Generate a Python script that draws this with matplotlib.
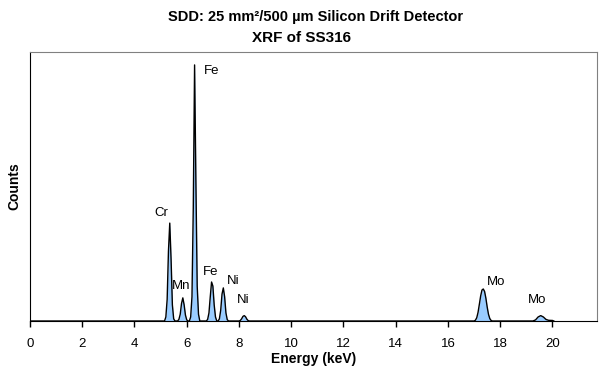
import matplotlib
matplotlib.use("Agg")
import matplotlib.pyplot as plt
import numpy as np

plt.rcParams['font.family'] = ['Liberation Sans', 'DejaVu Sans']

# spectrum (keV, arbitrary counts)
energy = [0.0, 5.15, 5.20, 5.25, 5.30, 5.35, 5.40, 5.45, 5.50, 5.55,
          5.65, 5.70, 5.75, 5.80, 5.85, 5.90, 5.95, 6.00, 6.05,
          6.10, 6.15, 6.20, 6.25, 6.30, 6.35, 6.40, 6.45, 6.50,
          6.75, 6.80, 6.85, 6.90, 6.95, 7.00, 7.05, 7.10, 7.15,
          7.20, 7.25, 7.30, 7.35, 7.40, 7.45, 7.50, 7.55, 7.60,
          8.00, 8.05, 8.10, 8.15, 8.20, 8.25, 8.30, 8.35, 8.40,
          17.00, 17.05, 17.10, 17.15, 17.20, 17.25, 17.30, 17.35, 17.40,
          17.45, 17.50, 17.55, 17.60, 17.65, 17.70,
          19.25, 19.35, 19.45, 19.55, 19.65, 19.75, 19.85, 20.00, 20.05]
counts = [0, 0, 150, 800, 2600, 3640, 2300, 600, 80, 0,
          0, 60, 250, 650, 860, 600, 220, 40, 0,
          0, 150, 900, 4200, 9520, 5200, 1300, 250, 0,
          0, 60, 300, 900, 1450, 1300, 600, 150, 0,
          0, 80, 400, 1000, 1230, 900, 300, 50, 0,
          0, 20, 80, 170, 200, 160, 70, 15, 0,
          0, 30, 120, 320, 620, 930, 1150, 1190, 1100,
          850, 520, 250, 90, 20, 0,
          0, 40, 150, 200, 150, 60, 25, 20, 0]

labels = ['Fe', 'Cr', 'Mn', 'Fe', 'Ni', 'Ni', 'Mo', 'Mo']
label_x = [6.66, 5.01, 5.78, 6.93, 7.77, 8.17, 17.83, 19.40]
label_y = [9300, 4020, 1300, 1820, 1490, 780, 1450, 780]
label_ha = ['left', 'center', 'center', 'center', 'center', 'center', 'center', 'center']

fig = plt.figure(figsize=(6.06, 3.75), dpi=100)
ax = fig.add_axes([0.0495, 0.144, 0.9355, 0.7173])

ax.fill_between(energy, counts, 0, color='#99ccff', lw=0)
ax.plot(energy, counts, color='black', lw=1)

for t, x, y, ha in zip(labels, label_x, label_y, label_ha):
    ax.text(x, y, t, ha=ha, va='center', fontsize=9.5)

ax.set_xlim(0, 21.7)
ax.set_ylim(0, 10000)
ax.set_xticks(np.arange(0, 21, 2))
ax.set_yticks([])
ax.tick_params(axis='x', direction='out', length=4, width=1, labelsize=9.5, pad=8)
for s in ['top', 'right']:
    ax.spines[s].set_color('#808080')
for s in ['left', 'bottom']:
    ax.spines[s].set_color('black')

ax.set_xlabel('Energy (keV)', fontsize=10, fontweight='bold', labelpad=2)
ax.set_ylabel('Counts', fontsize=10, fontweight='bold', labelpad=6)

fig.text(164 / 606, 1 - 17 / 375, 'Super', color='white', fontsize=10.5,
         fontweight='bold', ha='right', va='center')
fig.text(168 / 606, 1 - 17 / 375, 'SDD: 25 mm\u00b2/500 \u00b5m Silicon Drift Detector',
         fontsize=10.5, fontweight='bold', ha='left', va='center')
fig.text(302 / 606, 1 - 38 / 375, 'XRF of SS316', fontsize=11,
         fontweight='bold', ha='center', va='center')

fig.savefig('out.png', dpi=100)
